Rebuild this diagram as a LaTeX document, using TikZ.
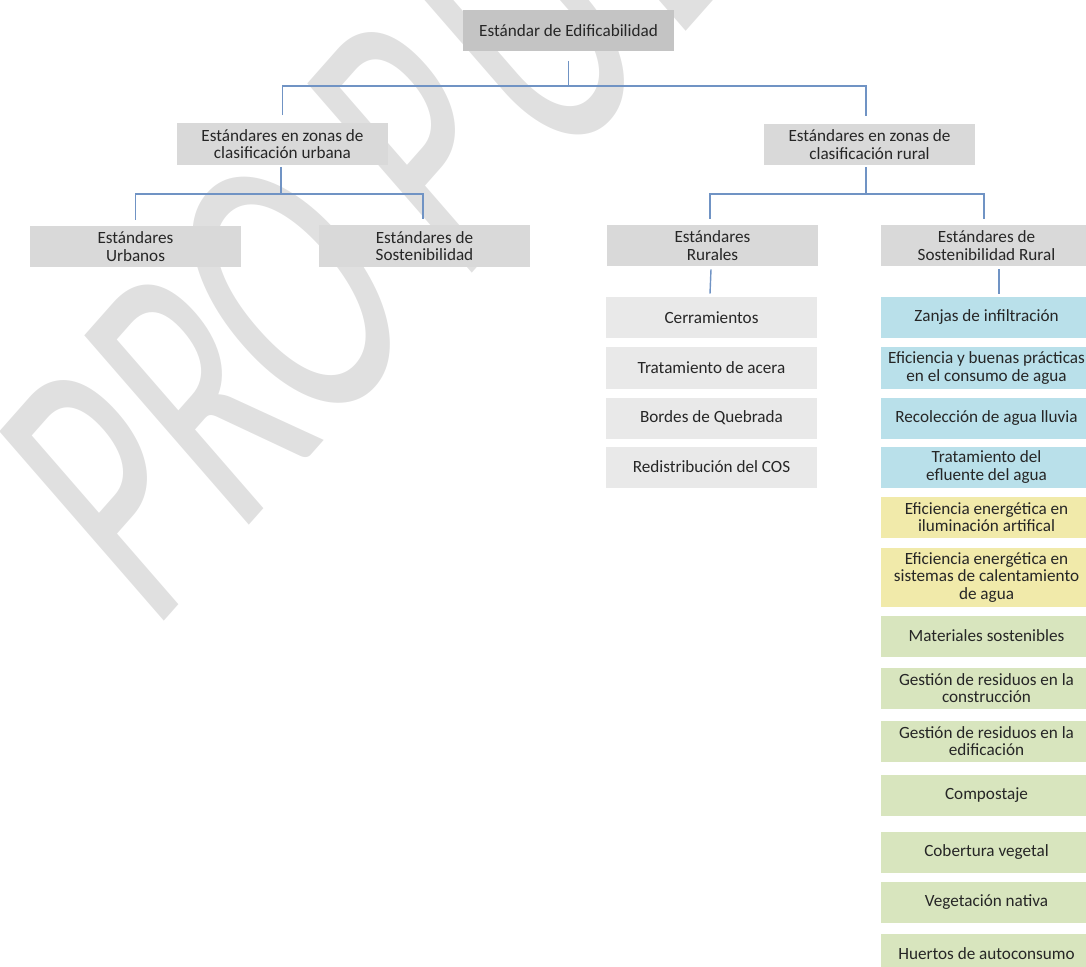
\documentclass[tikz,border=0pt]{standalone}
\usepackage{fontspec}
\setmainfont{Carlito}
\usepackage{xcolor}
\usetikzlibrary{calc}

\definecolor{rootgray}{HTML}{C4C4C4}
\definecolor{levelgray}{HTML}{D9D9D9}
\definecolor{itemgray}{HTML}{E9E9E9}
\definecolor{waterblue}{HTML}{B9E0EA}
\definecolor{energyyellow}{HTML}{F1EAAA}
\definecolor{greenitem}{HTML}{D8E5BE}
\definecolor{linkblue}{HTML}{7093C4}
\definecolor{markgray}{HTML}{E0E0E0}

\begin{document}
\begin{tikzpicture}[x={(0.025cm,0cm)}, y={(0cm,-0.025cm)},
  font=\fontsize{12.2}{12.4}\selectfont,
  box/.style={rectangle, minimum width=5.275cm, minimum height=1.025cm, inner sep=1pt, align=center, text=black!85},
  rootbox/.style={box, fill=rootgray, minimum height=1cm},
  levelbox/.style={box, fill=levelgray},
  itembox/.style={box, fill=itemgray},
  waterbox/.style={box, fill=waterblue},
  energybox/.style={box, fill=energyyellow},
  greenbox/.style={box, fill=greenitem},
  link/.style={draw=linkblue, line width=1pt}]
  \useasboundingbox (0,0) rectangle (1086,967);
  \clip (0,0) rectangle (1086,967);

  % Watermark
  \begin{scope}[shift={(152,635)}, cm={0.420,0.475,-0.656,0.755,(0,0)}]
    \node[transform shape, anchor=base west, inner sep=0pt, text=markgray, font=\fontsize{278}{300}\selectfont] (Mark) at (0,0) {PR\kern-12pt O\kern55pt P\kern20pt U\kern20pt ESTA};
  \end{scope}

  % Nodes
  \node[rootbox] (Root) at (568.5,30.5) {Estándar de Edificabilidad};

  \node[levelbox] (Urban) at (282.5,144) {Estándares en zonas de\\clasificación urbana};
  \node[levelbox] (Rural) at (869.5,144.5) {Estándares en zonas de\\clasificación rural};

  \node[levelbox] (Urbanos) at (135.5,246.5) {Estándares\\Urbanos};
  \node[levelbox] (SostUrb) at (424.5,246) {Estándares de\\Sostenibilidad};
  \node[levelbox] (Rurales) at (712.5,245.5) {Estándares\\Rurales};
  \node[levelbox] (SostRur) at (986.5,245.5) {Estándares de\\Sostenibilidad Rural};

  \node[itembox] (Rur1) at (711.5,317.5) {Cerramientos};
  \node[itembox] (Rur2) at (711.5,368) {Tratamiento de acera};
  \node[itembox] (Rur3) at (711.5,418) {Bordes de Quebrada};
  \node[itembox] (Rur4) at (711.5,467) {Redistribución del COS};

  \node[waterbox] (Sost1) at (986.5,317.5) {Zanjas de infiltración};
  \node[waterbox] (Sost2) at (986.5,368) {Eficiencia y buenas prácticas\\en el consumo de agua};
  \node[waterbox] (Sost3) at (986.5,418) {Recolección de agua lluvia};
  \node[waterbox] (Sost4) at (986.5,467) {Tratamiento del\\efluente del agua};
  \node[energybox] (Sost5) at (986.5,517) {Eficiencia energética en\\iluminación artifical};
  \node[energybox, minimum height=1.475cm] (Sost6) at (986.5,577.5) {Eficiencia energética en\\sistemas de calentamiento\\de agua};
  \node[greenbox] (Sost7) at (986.5,636) {Materiales sostenibles};
  \node[greenbox] (Sost8) at (986.5,688) {Gestión de residuos en la\\construcción};
  \node[greenbox] (Sost9) at (986.5,741) {Gestión de residuos en la\\edificación};
  \node[greenbox] (Sost10) at (986.5,795) {Compostaje};
  \node[greenbox] (Sost11) at (986.5,852) {Cobertura vegetal};
  \node[greenbox] (Sost12) at (986.5,902) {Vegetación nativa};
  \node[greenbox] (Sost13) at (986.5,954) {Huertos de autoconsumo};

  \coordinate (Bus0) at (568,86);
  \coordinate (Bus1) at (281,194);
  \coordinate (Bus2) at (866,194);

  % Edges
  \draw[link] ($(Root.south)+(0,10)$) -- (Root.south |- Bus0);
  \draw[link] ($(Urban.north)+(0,-8)$) |- (Bus0) -| ($(Rural.north)+(-3.5,-8)$);

  \draw[link] ($(Urban.south)+(-1.5,2)$) -- (Bus1);
  \draw[link] ($(Urbanos.north)+(0,-6)$) |- (Bus1) -| ($(SostUrb.north)+(-1.5,-6)$);

  \draw[link] ($(Rural.south)+(-3.5,2)$) -- (Bus2);
  \draw[link] ($(Rurales.north)+(-2.5,-6)$) |- (Bus2) -| ($(SostRur.north)+(-2.5,-6)$);

  \draw[link] ($(Rurales.south)+(-1.5,3)$) -- ($(Rur1.north)+(-1.5,-3)$);
  \draw[link] ($(SostRur.south)+(12.5,3)$) -- ($(Sost1.north)+(12.5,-3)$);
\end{tikzpicture}
\end{document}
